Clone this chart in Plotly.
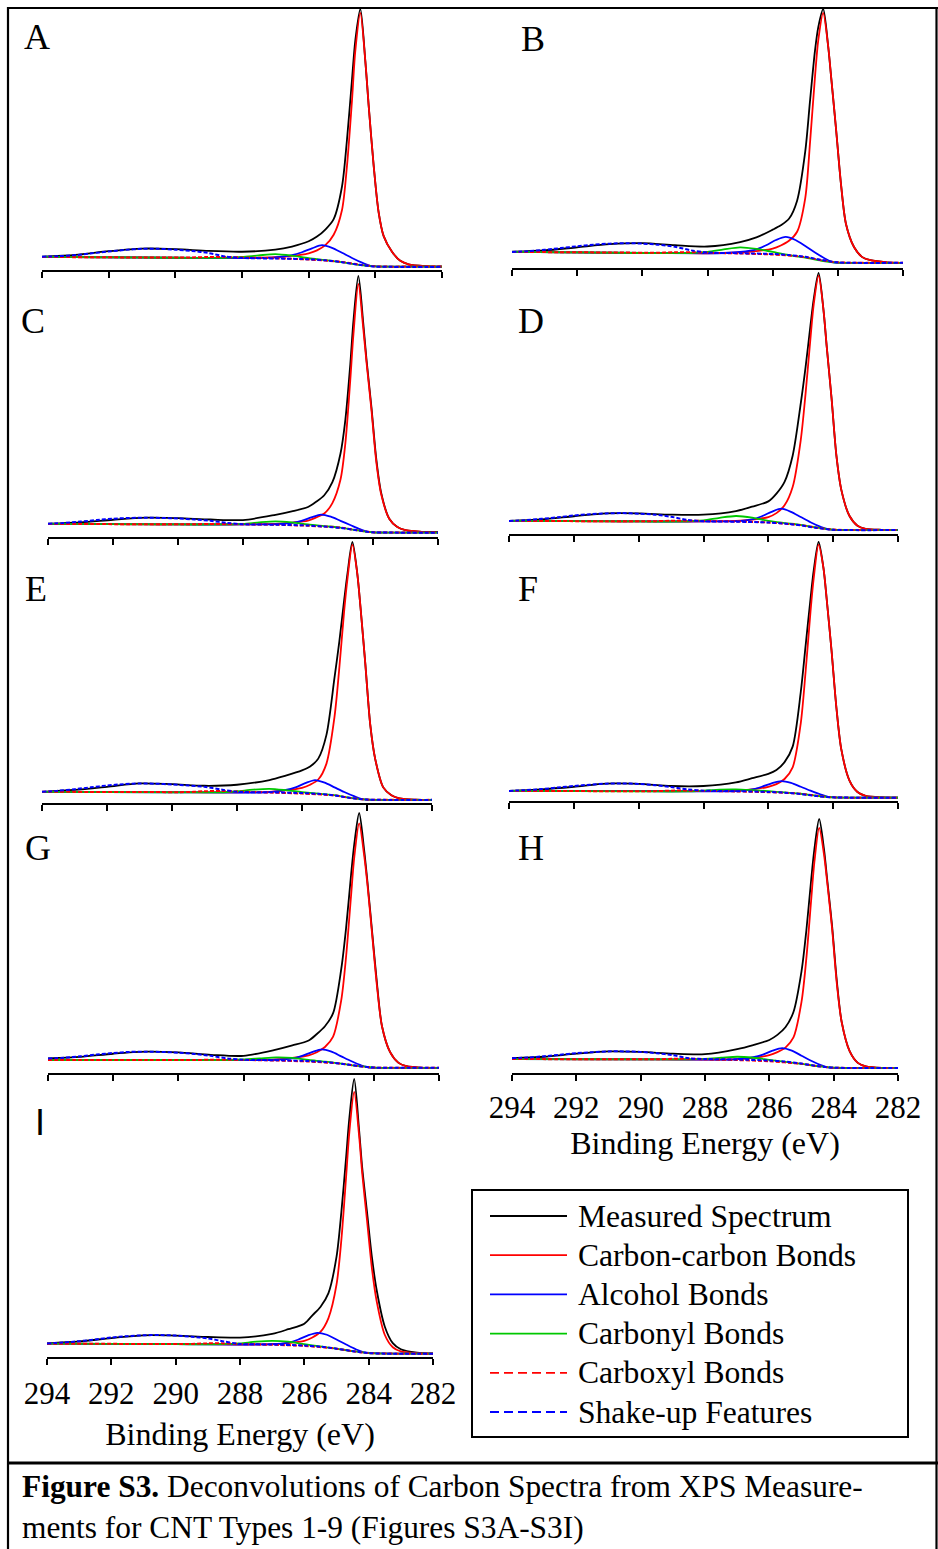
import plotly.graph_objects as go

W, H = 938, 1549
FONT = "Liberation Serif, Times New Roman, serif"

# ---------------- data (normalised intensity, axis = 0, measured peak = 1) ----------------
PANELS = ["A", "B", "C", "D", "E", "F", "G", "H", "I"]
TICKS = [294, 292, 290, 288, 286, 284, 282]
TICK_TEXT = ["294", "292", "290", "288", "286", "284", "282"]

E_MAIN = [294, 293, 292, 291, 290, 289, 288, 287, 286.5, 286, 285.75, 285.5, 285.25, 285.0,
          284.85, 284.7, 284.6, 284.45, 284.3, 284.2, 284.05, 283.9, 283.75, 283.5, 283.25,
          283.0, 282.5, 282.0]
E_ALC = [294, 290, 288, 287.5, 287, 286.5, 286.2, 285.9, 285.6, 285.3, 285.0, 284.7, 284.4,
         284.15, 283.5, 282]
E_CO = [294, 290, 288.5, 288, 287.5, 287, 286.5, 286, 285.5, 285, 284.5, 284, 283, 282]
E_COOH = [294, 291, 289.5, 289, 288.5, 288, 287, 286, 285, 284.5, 284, 283, 282]
E_SU = [294, 293.5, 293, 292.5, 292, 291.5, 291, 290.5, 290, 289.5, 289, 288.5, 288, 287, 286,
        285.5, 285, 284.5, 284, 283.5, 282]

measured = {
    "A": [0.051, 0.058, 0.072, 0.082, 0.080, 0.073, 0.070, 0.078, 0.090, 0.110, 0.128, 0.155, 0.195, 0.32,
          0.50, 0.73, 0.88, 1.0, 0.80, 0.63, 0.40, 0.22, 0.13, 0.07, 0.035, 0.022, 0.015, 0.013],
    "B": [0.063, 0.068, 0.080, 0.092, 0.096, 0.088, 0.083, 0.100, 0.118, 0.148, 0.165, 0.19, 0.26, 0.45,
          0.65, 0.84, 0.93, 1.0, 0.86, 0.73, 0.53, 0.32, 0.17, 0.08, 0.042, 0.03, 0.022, 0.02],
    "C": [0.051, 0.056, 0.066, 0.074, 0.072, 0.067, 0.065, 0.085, 0.098, 0.115, 0.135, 0.16, 0.21, 0.32,
          0.45, 0.66, 0.83, 1.0, 0.82, 0.68, 0.50, 0.30, 0.17, 0.07, 0.038, 0.026, 0.02, 0.02],
    "D": [0.050, 0.056, 0.068, 0.079, 0.079, 0.074, 0.074, 0.088, 0.105, 0.125, 0.155, 0.20, 0.30, 0.50,
          0.64, 0.80, 0.90, 1.0, 0.86, 0.72, 0.52, 0.30, 0.17, 0.07, 0.032, 0.02, 0.016, 0.015],
    "E": [0.043, 0.050, 0.062, 0.075, 0.072, 0.066, 0.070, 0.088, 0.105, 0.125, 0.14, 0.17, 0.26, 0.48,
          0.62, 0.78, 0.88, 1.0, 0.88, 0.75, 0.53, 0.30, 0.17, 0.06, 0.03, 0.018, 0.013, 0.012],
    "F": [0.039, 0.045, 0.055, 0.067, 0.066, 0.058, 0.058, 0.072, 0.088, 0.105, 0.12, 0.15, 0.21, 0.42,
          0.60, 0.78, 0.89, 1.0, 0.90, 0.78, 0.58, 0.36, 0.20, 0.08, 0.035, 0.02, 0.014, 0.013],
    "G": [0.056, 0.062, 0.074, 0.082, 0.079, 0.070, 0.066, 0.090, 0.106, 0.125, 0.15, 0.18, 0.23, 0.40,
          0.56, 0.76, 0.88, 1.0, 0.86, 0.74, 0.54, 0.34, 0.18, 0.08, 0.04, 0.026, 0.02, 0.02],
    "H": [0.058, 0.064, 0.076, 0.085, 0.083, 0.076, 0.074, 0.094, 0.11, 0.13, 0.15, 0.18, 0.24, 0.40,
          0.56, 0.76, 0.88, 1.0, 0.88, 0.76, 0.58, 0.36, 0.20, 0.085, 0.04, 0.026, 0.02, 0.02],
    "I": [0.049, 0.056, 0.068, 0.078, 0.077, 0.072, 0.070, 0.083, 0.10, 0.12, 0.15, 0.18, 0.23, 0.36,
          0.52, 0.72, 0.86, 1.0, 0.82, 0.68, 0.52, 0.36, 0.24, 0.11, 0.05, 0.028, 0.016, 0.013],
}

carbon_carbon = {
    "A": [0.050, 0.049, 0.048, 0.048, 0.047, 0.046, 0.046, 0.049, 0.054, 0.064, 0.075, 0.095, 0.135, 0.23,
          0.40, 0.65, 0.84, 0.985, 0.80, 0.63, 0.40, 0.22, 0.13, 0.07, 0.035, 0.022, 0.015, 0.013],
    "B": [0.062, 0.061, 0.060, 0.059, 0.058, 0.058, 0.057, 0.060, 0.065, 0.075, 0.087, 0.105, 0.14, 0.27,
          0.49, 0.74, 0.88, 0.985, 0.86, 0.73, 0.53, 0.32, 0.17, 0.08, 0.042, 0.03, 0.022, 0.02],
    "C": [0.050, 0.049, 0.049, 0.048, 0.048, 0.048, 0.048, 0.050, 0.055, 0.063, 0.075, 0.09, 0.13, 0.22,
          0.36, 0.60, 0.78, 0.97, 0.80, 0.67, 0.49, 0.29, 0.165, 0.07, 0.038, 0.026, 0.02, 0.018],
    "D": [0.050, 0.049, 0.049, 0.048, 0.048, 0.048, 0.048, 0.050, 0.055, 0.065, 0.08, 0.11, 0.18, 0.36,
          0.54, 0.75, 0.88, 0.99, 0.86, 0.72, 0.52, 0.30, 0.17, 0.07, 0.032, 0.02, 0.016, 0.015],
    "E": [0.043, 0.043, 0.042, 0.042, 0.042, 0.041, 0.041, 0.043, 0.048, 0.058, 0.07, 0.09, 0.15, 0.33,
          0.52, 0.74, 0.86, 0.99, 0.88, 0.75, 0.53, 0.30, 0.17, 0.06, 0.03, 0.018, 0.013, 0.012],
    "F": [0.039, 0.039, 0.038, 0.038, 0.038, 0.038, 0.038, 0.040, 0.045, 0.055, 0.065, 0.085, 0.13, 0.30,
          0.50, 0.73, 0.86, 0.99, 0.90, 0.78, 0.58, 0.36, 0.20, 0.08, 0.035, 0.02, 0.014, 0.013],
    "G": [0.050, 0.050, 0.050, 0.050, 0.050, 0.050, 0.050, 0.052, 0.058, 0.068, 0.08, 0.10, 0.14, 0.28,
          0.45, 0.68, 0.83, 0.96, 0.84, 0.73, 0.53, 0.33, 0.18, 0.08, 0.04, 0.026, 0.02, 0.02],
    "H": [0.055, 0.055, 0.054, 0.054, 0.054, 0.053, 0.053, 0.055, 0.060, 0.070, 0.082, 0.10, 0.14, 0.28,
          0.45, 0.68, 0.83, 0.965, 0.86, 0.75, 0.57, 0.35, 0.20, 0.085, 0.04, 0.026, 0.02, 0.02],
    "I": [0.048, 0.048, 0.047, 0.047, 0.046, 0.046, 0.045, 0.046, 0.050, 0.058, 0.07, 0.09, 0.14, 0.26,
          0.42, 0.65, 0.81, 0.954, 0.80, 0.66, 0.49, 0.32, 0.20, 0.08, 0.035, 0.02, 0.014, 0.012],
}

alcohol = {
    "A": [0.050, 0.047, 0.046, 0.046, 0.048, 0.057, 0.068, 0.083, 0.095, 0.085, 0.066, 0.046, 0.028, 0.016, 0.013, 0.013],
    "B": [0.062, 0.058, 0.057, 0.058, 0.062, 0.072, 0.088, 0.108, 0.120, 0.108, 0.085, 0.060, 0.037, 0.022, 0.020, 0.020],
    "C": [0.050, 0.048, 0.048, 0.048, 0.049, 0.054, 0.062, 0.075, 0.086, 0.078, 0.062, 0.046, 0.030, 0.020, 0.017, 0.017],
    "D": [0.050, 0.048, 0.048, 0.048, 0.049, 0.056, 0.068, 0.085, 0.097, 0.085, 0.065, 0.045, 0.028, 0.018, 0.015, 0.015],
    "E": [0.043, 0.041, 0.040, 0.040, 0.042, 0.050, 0.060, 0.076, 0.088, 0.078, 0.060, 0.042, 0.026, 0.015, 0.012, 0.012],
    "F": [0.039, 0.038, 0.037, 0.037, 0.038, 0.045, 0.055, 0.068, 0.077, 0.070, 0.055, 0.040, 0.026, 0.016, 0.013, 0.013],
    "G": [0.050, 0.050, 0.050, 0.050, 0.051, 0.056, 0.066, 0.080, 0.091, 0.082, 0.064, 0.046, 0.030, 0.021, 0.020, 0.020],
    "H": [0.055, 0.054, 0.053, 0.053, 0.055, 0.062, 0.072, 0.088, 0.098, 0.088, 0.068, 0.048, 0.031, 0.021, 0.020, 0.020],
    "I": [0.048, 0.046, 0.045, 0.045, 0.046, 0.052, 0.062, 0.077, 0.087, 0.080, 0.063, 0.045, 0.028, 0.017, 0.013, 0.012],
}

carbonyl = {
    "A": [0.050, 0.047, 0.047, 0.050, 0.056, 0.061, 0.055, 0.045, 0.038, 0.030, 0.020, 0.014, 0.013, 0.013],
    "B": [0.062, 0.058, 0.058, 0.062, 0.072, 0.080, 0.074, 0.062, 0.050, 0.040, 0.028, 0.021, 0.020, 0.020],
    "C": [0.050, 0.048, 0.048, 0.050, 0.056, 0.060, 0.056, 0.048, 0.042, 0.036, 0.026, 0.018, 0.017, 0.017],
    "D": [0.050, 0.048, 0.048, 0.052, 0.062, 0.069, 0.063, 0.050, 0.042, 0.035, 0.025, 0.017, 0.015, 0.015],
    "E": [0.043, 0.041, 0.041, 0.045, 0.051, 0.054, 0.049, 0.042, 0.036, 0.030, 0.020, 0.013, 0.012, 0.012],
    "F": [0.039, 0.037, 0.037, 0.040, 0.044, 0.045, 0.042, 0.038, 0.033, 0.028, 0.020, 0.014, 0.013, 0.013],
    "G": [0.050, 0.050, 0.050, 0.052, 0.056, 0.060, 0.058, 0.050, 0.044, 0.036, 0.027, 0.021, 0.020, 0.020],
    "H": [0.055, 0.054, 0.054, 0.056, 0.060, 0.064, 0.060, 0.052, 0.044, 0.036, 0.027, 0.021, 0.020, 0.020],
    "I": [0.048, 0.046, 0.046, 0.049, 0.055, 0.058, 0.055, 0.046, 0.038, 0.030, 0.021, 0.014, 0.012, 0.012],
}

carboxyl = {
    "A": [0.050, 0.048, 0.048, 0.050, 0.050, 0.048, 0.045, 0.040, 0.031, 0.021, 0.014, 0.013, 0.013],
    "B": [0.062, 0.060, 0.059, 0.061, 0.061, 0.059, 0.056, 0.052, 0.042, 0.030, 0.022, 0.020, 0.020],
    "C": [0.050, 0.049, 0.049, 0.050, 0.050, 0.049, 0.047, 0.043, 0.036, 0.026, 0.018, 0.017, 0.017],
    "D": [0.050, 0.049, 0.049, 0.051, 0.051, 0.050, 0.048, 0.044, 0.034, 0.024, 0.017, 0.015, 0.015],
    "E": [0.043, 0.042, 0.042, 0.045, 0.046, 0.044, 0.040, 0.036, 0.029, 0.019, 0.013, 0.012, 0.012],
    "F": [0.039, 0.038, 0.038, 0.040, 0.040, 0.039, 0.037, 0.034, 0.028, 0.020, 0.014, 0.013, 0.013],
    "G": [0.050, 0.050, 0.050, 0.051, 0.051, 0.050, 0.048, 0.044, 0.036, 0.027, 0.021, 0.020, 0.020],
    "H": [0.055, 0.054, 0.054, 0.056, 0.056, 0.054, 0.051, 0.046, 0.036, 0.027, 0.021, 0.020, 0.020],
    "I": [0.048, 0.047, 0.047, 0.049, 0.049, 0.047, 0.044, 0.040, 0.030, 0.021, 0.014, 0.012, 0.012],
}

shake_up = {
    "A": [0.051, 0.053, 0.057, 0.064, 0.071, 0.077, 0.081, 0.081, 0.078, 0.073, 0.065, 0.052, 0.046, 0.044, 0.041, 0.037, 0.030, 0.020, 0.013, 0.012, 0.012],
    "B": [0.062, 0.065, 0.070, 0.077, 0.084, 0.090, 0.094, 0.096, 0.094, 0.090, 0.082, 0.068, 0.060, 0.057, 0.054, 0.050, 0.043, 0.031, 0.022, 0.020, 0.020],
    "C": [0.051, 0.054, 0.059, 0.065, 0.070, 0.073, 0.074, 0.073, 0.071, 0.067, 0.062, 0.054, 0.049, 0.047, 0.044, 0.040, 0.035, 0.026, 0.018, 0.017, 0.016],
    "D": [0.050, 0.053, 0.058, 0.064, 0.071, 0.076, 0.079, 0.080, 0.078, 0.074, 0.066, 0.054, 0.049, 0.047, 0.044, 0.040, 0.033, 0.023, 0.016, 0.015, 0.015],
    "E": [0.043, 0.047, 0.053, 0.060, 0.067, 0.072, 0.075, 0.074, 0.071, 0.067, 0.062, 0.052, 0.043, 0.041, 0.038, 0.035, 0.029, 0.019, 0.013, 0.012, 0.012],
    "F": [0.039, 0.042, 0.046, 0.052, 0.058, 0.063, 0.067, 0.068, 0.066, 0.061, 0.054, 0.045, 0.040, 0.038, 0.035, 0.032, 0.027, 0.019, 0.014, 0.013, 0.013],
    "G": [0.056, 0.059, 0.064, 0.071, 0.077, 0.081, 0.082, 0.081, 0.078, 0.073, 0.066, 0.056, 0.051, 0.049, 0.046, 0.042, 0.036, 0.027, 0.021, 0.020, 0.020],
    "H": [0.058, 0.061, 0.066, 0.072, 0.078, 0.082, 0.085, 0.085, 0.083, 0.078, 0.070, 0.058, 0.055, 0.053, 0.049, 0.045, 0.037, 0.027, 0.021, 0.020, 0.020],
    "I": [0.049, 0.052, 0.057, 0.063, 0.070, 0.075, 0.078, 0.079, 0.077, 0.073, 0.067, 0.056, 0.047, 0.045, 0.041, 0.037, 0.030, 0.021, 0.014, 0.012, 0.012],
}

LEGEND_LABELS = ["Measured Spectrum", "Carbon-carbon Bonds", "Alcohol Bonds",
                 "Carbonyl Bonds", "Carboxyl Bonds", "Shake-up Features"]

# ---------------- styling / layout (pixel geometry) ----------------
BLACK, RED, BLUE, GREEN = "#000000", "#ff0000", "#0000ff", "#00c800"
SERIES_STYLE = [
    (BLACK, "solid"), (RED, "solid"), (BLUE, "solid"),
    (GREEN, "solid"), (RED, "4px,2px"), (BLUE, "4px,2px"),
]
# panel box: x_left(294), x_right(282), y of axis line, y of peak top  (pixels)
BOX = {
    "A": (42, 442, 270, 9), "B": (512, 903, 268, 9),
    "C": (48, 438, 537, 276), "D": (509, 898, 534, 273),
    "E": (42, 432, 803, 542), "F": (509, 898, 801, 542),
    "G": (48, 439, 1073, 813), "H": (512, 898, 1073, 819),
    "I": (47, 433, 1357, 1079),
}
LETTER_POS = {
    "A": (22, 37), "B": (519, 39), "C": (19, 321), "D": (516, 321),
    "E": (23, 589), "F": (516, 589), "G": (23, 848), "H": (516, 848), "I": (33, 1122),
}
TITLE_STANDOFF = {"H": 7, "I": 13}
TICK_STANDOFF = {"H": 0, "I": 2}

fig = go.Figure()
layout = {}
annotations = []
shapes = []

for i, p in enumerate(PANELS):
    k = i + 1
    sfx = "" if k == 1 else str(k)
    x0, x1, yb, yt = BOX[p]
    pad = 4
    top = 1 + pad / (yb - yt)
    series = [
        (E_MAIN, measured[p]), (E_MAIN, carbon_carbon[p]), (E_ALC, alcohol[p]),
        (E_CO, carbonyl[p]), (E_COOH, carboxyl[p]), (E_SU, shake_up[p]),
    ]
    for (xs, ys), (col, dash), name in zip(series, SERIES_STYLE, LEGEND_LABELS):
        fig.add_trace(go.Scatter(
            x=xs, y=ys, mode="lines", name=name, showlegend=False,
            line=dict(color=col, width=(2.0 if dash != "solid" else 1.8), dash=dash,
                      shape="spline", smoothing=0.8),
            xaxis="x" + sfx, yaxis="y" + sfx, hoverinfo="skip",
        ))
    show_labels = p in ("H", "I")
    layout["xaxis" + sfx] = dict(
        domain=[x0 / W, x1 / W], range=[294, 282], anchor="y" + sfx,
        tickmode="array", tickvals=TICKS, ticktext=TICK_TEXT,
        showticklabels=show_labels, ticks="outside", ticklen=6, tickwidth=1.5,
        tickcolor="black", showline=True, linecolor="black", linewidth=1.5,
        showgrid=False, zeroline=False, automargin=False,
        tickfont=dict(family=FONT, size=31, color="black"),
        ticklabelstandoff=TICK_STANDOFF.get(p, 0),
        title=dict(text="Binding Energy (eV)" if show_labels else "",
                   font=dict(family=FONT, size=32, color="black"),
                   standoff=TITLE_STANDOFF.get(p, 7)),
    )
    layout["yaxis" + sfx] = dict(
        domain=[1 - yb / H, 1 - (yt - pad) / H], range=[0, top], anchor="x" + sfx,
        visible=False, showgrid=False, zeroline=False, automargin=False,
    )
    lx, ly = LETTER_POS[p]
    annotations.append(dict(
        text=p, x=lx / W, y=1 - ly / H, xref="paper", yref="paper",
        xanchor="left", yanchor="middle", showarrow=False,
        font=dict(family=("Liberation Sans, Arial, sans-serif" if p == "I" else FONT),
                  size=36, color="black"),
    ))

# legend box (drawn manually)
LEG_X0, LEG_X1, LEG_Y0, LEG_Y1 = 472, 908, 1190, 1437
shapes.append(dict(type="rect", xref="paper", yref="paper",
                   x0=LEG_X0 / W, x1=LEG_X1 / W, y0=1 - LEG_Y1 / H, y1=1 - LEG_Y0 / H,
                   line=dict(color="black", width=2), fillcolor="rgba(0,0,0,0)"))
for j, ((col, dash), label) in enumerate(zip(SERIES_STYLE, LEGEND_LABELS)):
    yy = 1216 + j * 39.2
    shapes.append(dict(type="line", xref="paper", yref="paper",
                       x0=490 / W, x1=567 / W, y0=1 - yy / H, y1=1 - yy / H,
                       line=dict(color=col, width=1.8,
                                 dash=("solid" if dash == "solid" else "9px,5px"))))
    annotations.append(dict(
        text=label, x=576 / W, y=1 - yy / H, xref="paper", yref="paper",
        xanchor="left", yanchor="middle", showarrow=False,
        font=dict(family=FONT, size=31.6, color="black"),
    ))

# outer frame and caption box
shapes += [
    dict(type="line", xref="paper", yref="paper", x0=8 / W, x1=1, y0=1 - 8 / H, y1=1 - 8 / H,
         line=dict(color="black", width=2.2)),
    dict(type="line", xref="paper", yref="paper", x0=8 / W, x1=8 / W, y0=0, y1=1 - 7 / H,
         line=dict(color="black", width=2.2)),
    dict(type="line", xref="paper", yref="paper", x0=936.5 / W, x1=936.5 / W, y0=0, y1=1 - 7 / H,
         line=dict(color="black", width=2.2)),
    dict(type="line", xref="paper", yref="paper", x0=8 / W, x1=1, y0=1 - 1463 / H, y1=1 - 1463 / H,
         line=dict(color="black", width=3)),
]
annotations.append(dict(
    text="<b>Figure S3.</b> Deconvolutions of Carbon Spectra from XPS Measure-<br>"
         "ments for CNT Types 1-9 (Figures S3A-S3I)",
    x=20 / W, y=1 - 1507 / H, xref="paper", yref="paper", xanchor="left", yanchor="middle",
    align="left", showarrow=False, font=dict(family=FONT, size=31.4, color="black"),
))

fig.update_layout(
    width=W, height=H, margin=dict(l=0, r=0, t=0, b=0),
    paper_bgcolor="white", plot_bgcolor="white", showlegend=False,
    annotations=annotations, shapes=shapes, **layout,
)
fig.write_html("out.html")
